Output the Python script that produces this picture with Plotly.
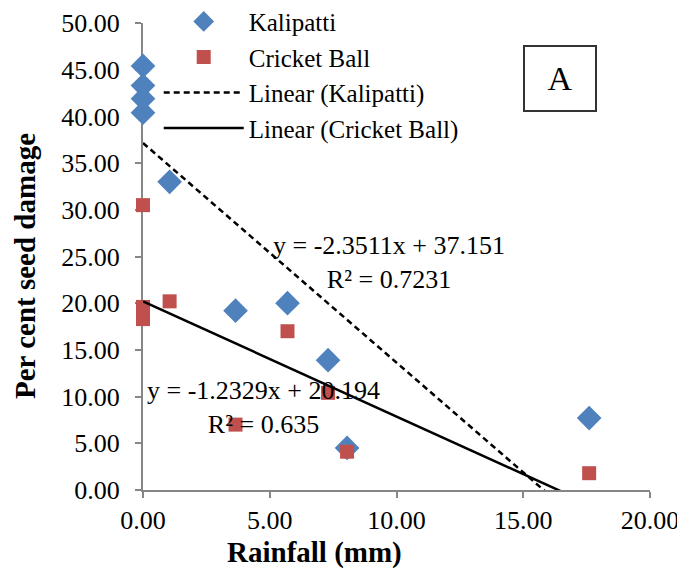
import plotly.graph_objects as go

# ---- data ----
kal_x = [0.0, 0.0, 0.0, 0.0, 1.05, 3.65, 5.7, 7.3, 8.05, 17.6]
kal_y = [45.4, 43.3, 41.9, 40.4, 33.0, 19.2, 20.0, 13.9, 4.5, 7.7]
crk_x = [0.0, 0.0, 0.0, 0.0, 1.05, 3.65, 5.7, 7.3, 8.05, 17.6]
crk_y = [30.5, 19.6, 19.0, 18.3, 20.2, 7.0, 17.0, 10.4, 4.1, 1.8]

kal_slope, kal_intercept, kal_r2 = -2.3511, 37.151, 0.7231
crk_slope, crk_intercept, crk_r2 = -1.2329, 20.194, 0.635

x_ticks = [0, 5, 10, 15, 20]
y_ticks = [0, 5, 10, 15, 20, 25, 30, 35, 40, 45, 50]

FONT = "Liberation Serif, Times New Roman, serif"
BLUE = "#4F81BD"
RED = "#C0504D"

kal_line_x = [min(kal_x), max(kal_x)]
kal_line_y = [kal_slope * v + kal_intercept for v in kal_line_x]
crk_line_x = [min(crk_x), max(crk_x)]
crk_line_y = [crk_slope * v + crk_intercept for v in crk_line_x]

fig = go.Figure()
fig.add_trace(go.Scatter(x=kal_x, y=kal_y, mode="markers", name="Kalipatti",
                         marker=dict(symbol="diamond", size=19, color=BLUE),
                         cliponaxis=False))
fig.add_trace(go.Scatter(x=crk_x, y=crk_y, mode="markers", name="Cricket Ball",
                         marker=dict(symbol="square", size=14, color=RED),
                         cliponaxis=False))
fig.add_trace(go.Scatter(x=kal_line_x, y=kal_line_y, mode="lines", name="Linear (Kalipatti)",
                         line=dict(color="black", width=2.5, dash="6px,4px")))
fig.add_trace(go.Scatter(x=crk_line_x, y=crk_line_y, mode="lines", name="Linear (Cricket Ball)",
                         line=dict(color="black", width=2.5)))

axis_common = dict(showgrid=False, zeroline=False, showline=True, linecolor="#868686",
                   linewidth=2, ticks="outside", ticklen=6, tickwidth=2, tickcolor="#868686",
                   tickfont=dict(family=FONT, size=26, color="black"), tickformat=".2f",
                   layer="below traces", automargin=False)

fig.update_xaxes(range=[0, 20], tickvals=x_ticks, **axis_common)
fig.update_yaxes(range=[0, 50], tickvals=y_ticks, ticklabelstandoff=10, **axis_common)

annotations = [
    dict(text=f"y = {kal_slope}x + {kal_intercept}<br>R² = {kal_r2}", x=9.7, y=24.4,
         xref="x", yref="y", showarrow=False, align="center",
         xanchor="center", yanchor="middle",
         font=dict(family=FONT, size=26, color="black")),
    dict(text=f"y = {crk_slope}x + {crk_intercept}<br>R² = {crk_r2}", x=4.75, y=8.8,
         xref="x", yref="y", showarrow=False, align="center",
         xanchor="center", yanchor="middle",
         font=dict(family=FONT, size=26, color="black")),
    dict(text="A", x=(560 - 143) / 507, y=(490 - 78) / 467, xref="paper", yref="paper",
         xanchor="center", yanchor="middle",
         showarrow=False, width=70, height=63, bordercolor="#333333", borderwidth=2,
         borderpad=0, font=dict(family=FONT, size=34, color="black")),
    dict(text="<b>Rainfall (mm)</b>", x=(314 - 143) / 507, y=(490 - 552) / 467,
         xref="paper", yref="paper", showarrow=False, xanchor="center", yanchor="middle",
         font=dict(family=FONT, size=29, color="black")),
    dict(text="<b>Per cent seed damage</b>", x=(25 - 143) / 507, y=(490 - 266) / 467,
         xref="paper", yref="paper", showarrow=False, textangle=-90,
         xanchor="center", yanchor="middle",
         font=dict(family=FONT, size=29, color="black")),
]

# the page body adds an 8px margin, so the figure is 8px smaller on each axis
fig.update_layout(
    width=677, height=563,
    margin=dict(l=135, r=35, t=15, b=81, autoexpand=False),
    paper_bgcolor="white", plot_bgcolor="white",
    showlegend=True,
    legend=dict(x=0.031, y=1.052, xanchor="left", yanchor="top", bgcolor="rgba(0,0,0,0)",
                font=dict(family=FONT, size=25, color="black"), itemwidth=80,
                tracegroupgap=0),
    annotations=annotations,
)

fig.write_html("out.html")
